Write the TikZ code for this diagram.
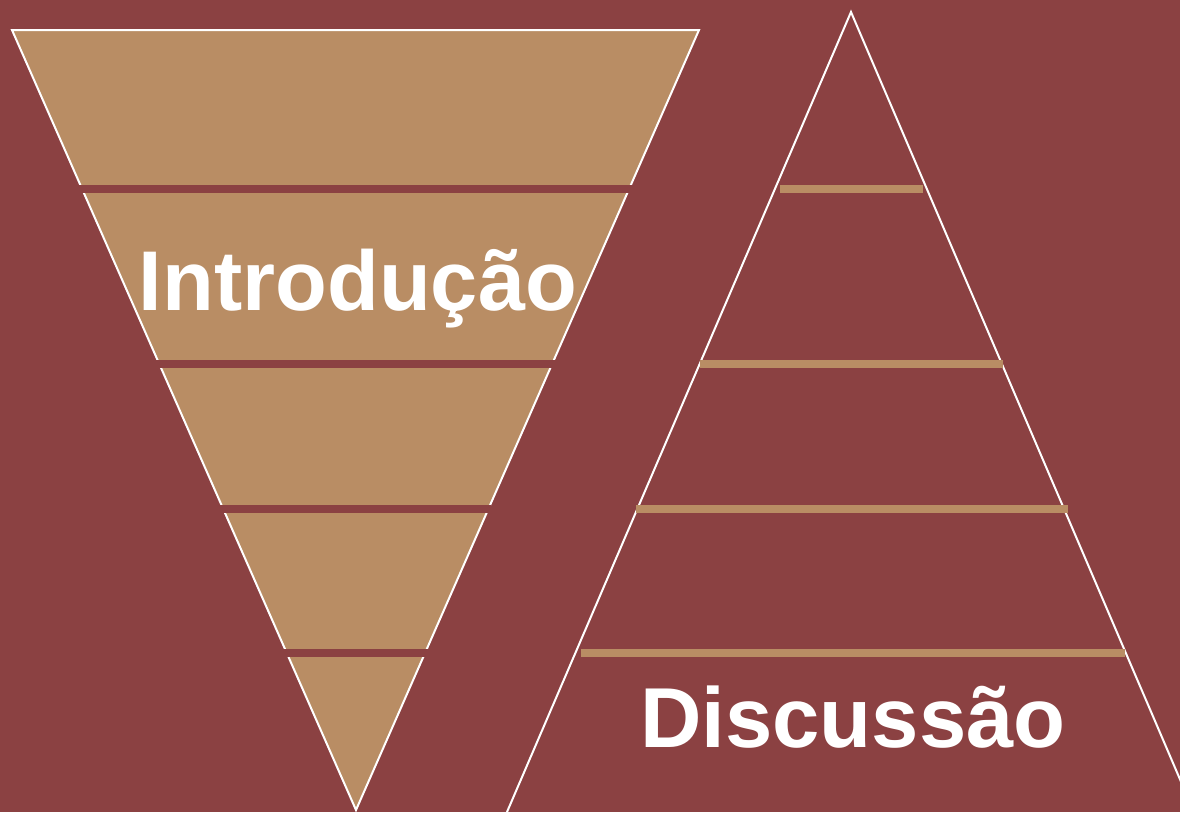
\documentclass[tikz,border=0pt]{standalone}
\usepackage{fontspec}
\setmainfont{Liberation Sans}
\definecolor{wine}{RGB}{139,65,66}
\definecolor{sand}{RGB}{185,141,100}

\begin{document}
\begin{tikzpicture}[x=0.025cm,y=-0.025cm,
  outline/.style={draw=white,line width=0.05cm},
  band/.style={draw=wine,line width=0.2cm},
  rung/.style={draw=sand,line width=0.18cm},
  title/.style={text=white,anchor=base,inner sep=0pt,font=\bfseries}]
\fill [wine] (0,0) rectangle (1180,812);
\useasboundingbox (0,0) rectangle (1180,812);
\clip (0,0) rectangle (1180,812);
% funnel on the left
\coordinate (TL) at (12,30);
\coordinate (TR) at (699,30);
\coordinate (V) at (356,810);
\filldraw [fill=sand,outline] (TL) -- (TR) -- (V) -- cycle;
\draw [band] (79,189) -- (632,189);
\draw [band] (156,364) -- (555,364);
\draw [band] (220,509) -- (491,509);
\draw [band] (283,653) -- (428,653);
% pyramid on the right
\coordinate (P) at (851,12);
\coordinate (BL) at (507,812);
\coordinate (BR) at (1194,812);
\draw [outline] (BL) -- (P) -- (BR);
\draw [rung] (780,189) -- (923,189);
\draw [rung] (700,364) -- (1003,364);
\draw [rung] (636,509) -- (1068,509);
\draw [rung] (581,653) -- (1125,653);
\node (intro) [title,font=\fontsize{60.3}{60.3}\selectfont\bfseries] at (358,310) {Introdução};
\node (disc) [title,font=\fontsize{60.5}{60.5}\selectfont\bfseries] at (853,747) {Discussão};
\end{tikzpicture}
\end{document}
